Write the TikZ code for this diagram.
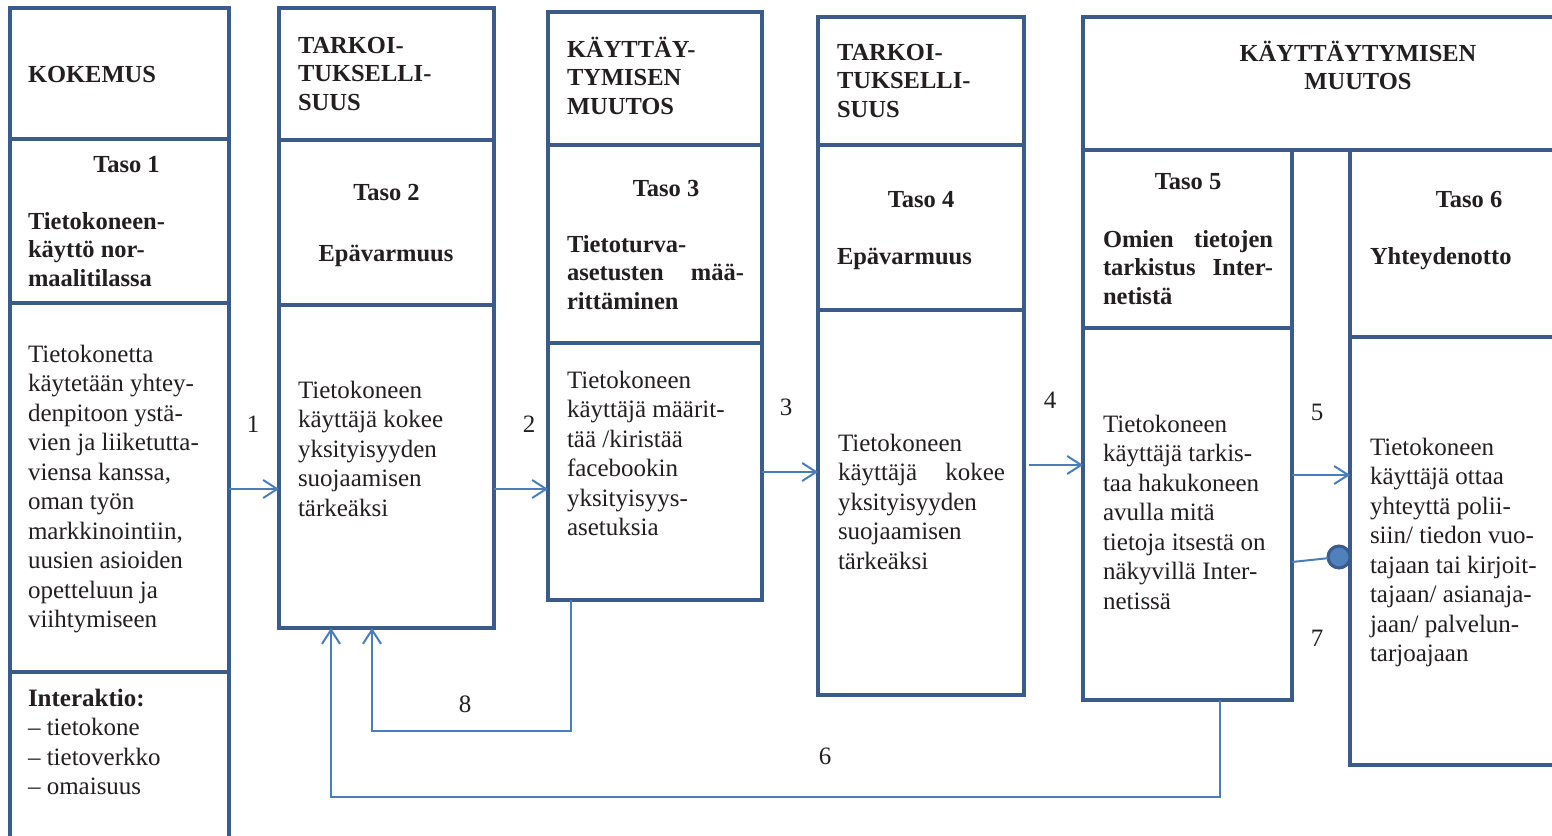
\documentclass[tikz,border=0pt]{standalone}
\usepackage{fontspec}
\setmainfont{Liberation Serif}
\usetikzlibrary{arrows.meta}

\definecolor{framecol}{HTML}{3B5C8B}
\definecolor{linkcol}{HTML}{4A7EBB}
\definecolor{dotfill}{HTML}{4F81BD}
\definecolor{inkcol}{HTML}{231F20}

\newcommand\bodyfont{\fontsize{25}{29.5}\selectfont}
\newcommand\headfont{\fontsize{24.5}{28.7}\selectfont\bfseries}

\tikzset{
  cell/.style={rectangle, draw=framecol, line width=4pt, inner sep=0pt, outer sep=0pt},
  txt/.style={text=inkcol, inner sep=0pt, outer sep=0pt, font=\bodyfont,
    align=left, anchor=north west, yshift=20.65pt},
  hd/.style={text=inkcol, inner sep=0pt, outer sep=0pt, font=\headfont,
    align=left, anchor=north west, yshift=20.09pt},
  hdc/.style={hd, align=center, anchor=north},
  mid/.style={text=inkcol, inner sep=0pt, outer sep=0pt, font=\headfont, anchor=base},
  num/.style={text=inkcol, inner sep=0pt, outer sep=0pt, font=\bodyfont, anchor=base},
  link/.style={draw=linkcol, line width=2pt},
  arr/.style={link, -{Straight Barb[length=14pt,width=18pt]}},
  dot/.style={circle, fill=dotfill, draw=framecol, line width=3pt,
    minimum size=22pt, inner sep=0pt, outer sep=0pt},
}

% \cell{name}{x1}{y1}{x2}{y2}: framed rectangle between two corners
\newcommand\cell[5]{%
  \node[cell, minimum width={(#4-#2)*1pt}, minimum height={(#5-#3)*1pt}]
    (#1) at ({(#2+#4)/2},{(#3+#5)/2}) {};}

\begin{document}
\begin{tikzpicture}[x=1pt, y=-1pt]
\useasboundingbox (0,0) rectangle (1552,835);
\fill[white] (0,0) rectangle (1552,835);
\clip (0,0) rectangle (1552,835);

% ---- frames ----
\cell{k1h}{10}{8}{229}{139}
\cell{k1t}{10}{139}{229}{303}
\cell{k1b}{10}{303}{229}{672}
\cell{k1i}{10}{672}{229}{850}

\cell{k2h}{279}{8}{494}{140}
\cell{k2t}{279}{140}{494}{305}
\cell{k2b}{279}{305}{494}{628}

\cell{k3h}{548}{12}{762}{145}
\cell{k3t}{548}{145}{762}{343}
\cell{k3b}{548}{343}{762}{600}

\cell{k4h}{818}{17}{1024}{145}
\cell{k4t}{818}{145}{1024}{310}
\cell{k4b}{818}{310}{1024}{695}

\cell{k56h}{1083}{17}{1570}{150}
\cell{k5t}{1083}{150}{1292}{328}
\cell{k5b}{1083}{328}{1292}{700}
\cell{k6t}{1350}{150}{1570}{337}
\cell{k6b}{1350}{337}{1570}{765}

% ---- column 1 ----
\node[hd] (h1) at (28,82) {\strut KOKEMUS};
\node[mid] (t1) at (126.5,172) {Taso 1};
\node[hd] (s1) at (28,229) {\strut Tietokoneen-\\käyttö nor-\\maalitilassa};
\node[txt] (b1) at (28,362) {\strut Tietokonetta\\käytetään yhtey-\\denpitoon ystä-\\vien ja liiketutta-\\viensa kanssa,\\oman työn\\markkinointiin,\\uusien asioiden\\opetteluun ja\\viihtymiseen};
\node[txt] (i1) at (28,706) {\strut\textbf{Interaktio:}\\– tietokone\\– tietoverkko\\– omaisuus};

% ---- column 2 ----
\node[hd] (h2) at (298,53) {\strut TARKOI-\\TUKSELLI-\\SUUS};
\node[mid] (t2) at (386.5,200) {Taso 2};
\node[mid] (s2) at (386,261) {Epävarmuus};
\node[txt] (b2) at (298,398) {\strut Tietokoneen\\käyttäjä kokee\\yksityisyyden\\suojaamisen\\tärkeäksi};

% ---- column 3 ----
\node[hd] (h3) at (567,57) {\strut KÄYTTÄY-\\TYMISEN\\MUUTOS};
\node[mid] (t3) at (666,196) {Taso 3};
\node[hd] (s3) at (567,252) {\strut Tietoturva-\\\hbox to 177pt{asetusten\hfill mää-}\\rittäminen};
\node[txt] (b3) at (567,388) {\strut Tietokoneen\\käyttäjä määrit-\\tää /kiristää\\facebookin\\yksityisyys-\\asetuksia};

% ---- column 4 ----
\node[hd] (h4) at (837,60) {\strut TARKOI-\\TUKSELLI-\\SUUS};
\node[mid] (t4) at (921,207) {Taso 4};
\node[hd] (s4) at (837,264) {\strut Epävarmuus};
\node[txt] (b4) at (838,451) {\strut Tietokoneen\\\hbox to 167pt{käyttäjä\hfill kokee}\\yksityisyyden\\suojaamisen\\tärkeäksi};

% ---- columns 5 and 6 ----
\node[hdc] (h56) at (1358,61) {\strut KÄYTTÄYTYMISEN\\MUUTOS};
\node[mid] (t5) at (1188,189) {Taso 5};
\node[hd] (s5) at (1103,247) {\strut\hbox to 170pt{Omien\hfill tietojen}\\\hbox to 170pt{tarkistus\hfill Inter-}\\netistä};
\node[txt] (b5) at (1103,432) {\strut Tietokoneen\\käyttäjä tarkis-\\taa hakukoneen\\avulla mitä\\tietoja itsestä on\\näkyvillä Inter-\\netissä};
\node[mid] (t6) at (1469,207) {Taso 6};
\node[hd] (s6) at (1370,264) {\strut Yhteydenotto};
\node[txt] (b6) at (1370,455) {\strut Tietokoneen\\käyttäjä ottaa\\yhteyttä polii-\\siin/ tiedon vuo-\\tajaan tai kirjoit-\\tajaan/ asianaja-\\jaan/ palvelun-\\tarjoajaan};

% ---- connectors ----
\coordinate (r1) at (0,489);
\coordinate (r3) at (0,472);
\coordinate (r4) at (0,465);
\coordinate (r5) at (0,475);
\coordinate (r7a) at (0,562);
\coordinate (r7b) at (0,557);
\coordinate (c8r) at (571,731);
\coordinate (c8l) at (372,731);
\coordinate (c6r) at (1220,797);
\coordinate (c6l) at (331,797);

\draw[arr] (k1b.east |- r1) -- (k2b.west |- r1);
\draw[arr] (k2b.east |- r1) -- (k3b.west |- r1);
\draw[arr] (k3b.east |- r3) -- (k4b.west |- r3);
\draw[arr, shorten <=5pt] (k4b.east |- r4) -- (k5b.west |- r4);
\draw[arr] (k5b.east |- r5) -- (k6b.west |- r5);
\node[dot, anchor=east] (d7) at (k6b.west |- r7b) {};
\draw[link] (k5b.east |- r7a) -- (d7);
\draw[arr] (k3b.south -| c8r) -- (c8r) -- (c8l) -- (k2b.south -| c8l);
\draw[arr] (k5b.south -| c6r) -- (c6r) -- (c6l) -- (k2b.south -| c6l);

% ---- connector numbers ----
\node[num] (n1) at (253,432) {1};
\node[num] (n2) at (529,432) {2};
\node[num] (n3) at (786,415) {3};
\node[num] (n4) at (1050,408) {4};
\node[num] (n5) at (1317,420) {5};
\node[num] (n6) at (825,764) {6};
\node[num] (n7) at (1317,646) {7};
\node[num] (n8) at (465,712) {8};
\end{tikzpicture}
\end{document}
